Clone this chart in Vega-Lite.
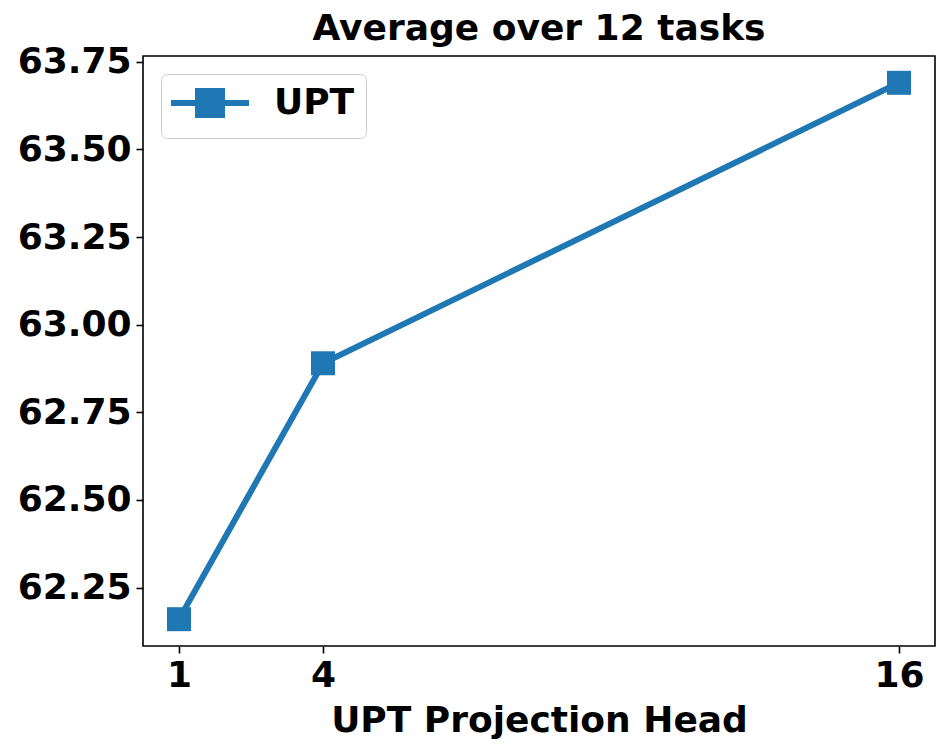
{
  "$schema": "https://vega.github.io/schema/vega-lite/v6.json",
  "autosize": "none",
  "width": 792,
  "height": 590,
  "padding": {"left": 143, "top": 56, "right": 17, "bottom": 110},
  "background": "white",
  "title": {"text": "Average over 12 tasks", "font": "DejaVu Sans", "fontSize": 36, "fontWeight": "bold", "color": "black", "offset": -4, "anchor": "middle"},
  "config": {
    "view": {"stroke": "black", "strokeWidth": 1.6},
    "axis": {"domain": false, "grid": false, "tickColor": "black", "tickWidth": 1.6, "tickSize": 7, "labelFont": "DejaVu Sans", "labelFontSize": 36, "labelFontWeight": "bold", "labelColor": "black", "labelPadding": 5, "titleFont": "DejaVu Sans", "titleFontSize": 36, "titleFontWeight": "bold", "titleColor": "black"}
  },
  "data": {"values": [
    {"head": 1, "avg": 62.16, "series": "UPT"},
    {"head": 4, "avg": 62.89, "series": "UPT"},
    {"head": 16, "avg": 63.69, "series": "UPT"}
  ]},
  "mark": {"type": "line", "strokeWidth": 6, "point": {"shape": "square", "size": 576, "filled": true, "opacity": 1}},
  "encoding": {
    "x": {"field": "head", "type": "quantitative", "scale": {"domain": [0.25, 16.75], "nice": false, "zero": false}, "axis": {"values": [1, 4, 16], "title": "UPT Projection Head", "titlePadding": 10, "labelFlush": false}},
    "y": {"field": "avg", "type": "quantitative", "scale": {"domain": [62.0835, 63.7665], "nice": false, "zero": false}, "axis": {"values": [62.25, 62.5, 62.75, 63.0, 63.25, 63.5, 63.75], "format": ".2f", "title": null, "labelFlush": false}},
    "color": {"field": "series", "type": "nominal", "scale": {"range": ["#1f77b4"]}, "legend": {"title": null, "orient": "top-left", "offset": 18, "symbolType": "M-3.25,0H3.25M-1,-1H1V1H-1Z", "symbolSize": 576, "symbolStrokeWidth": 6, "symbolFillColor": "#1f77b4", "symbolStrokeColor": "#1f77b4", "symbolOffset": 20, "labelFont": "DejaVu Sans", "labelFontSize": 36, "labelFontWeight": "bold", "labelColor": "black", "labelOffset": 46, "strokeColor": "#cccccc", "cornerRadius": 6, "fillColor": "white", "padding": 11}}
  }
}
